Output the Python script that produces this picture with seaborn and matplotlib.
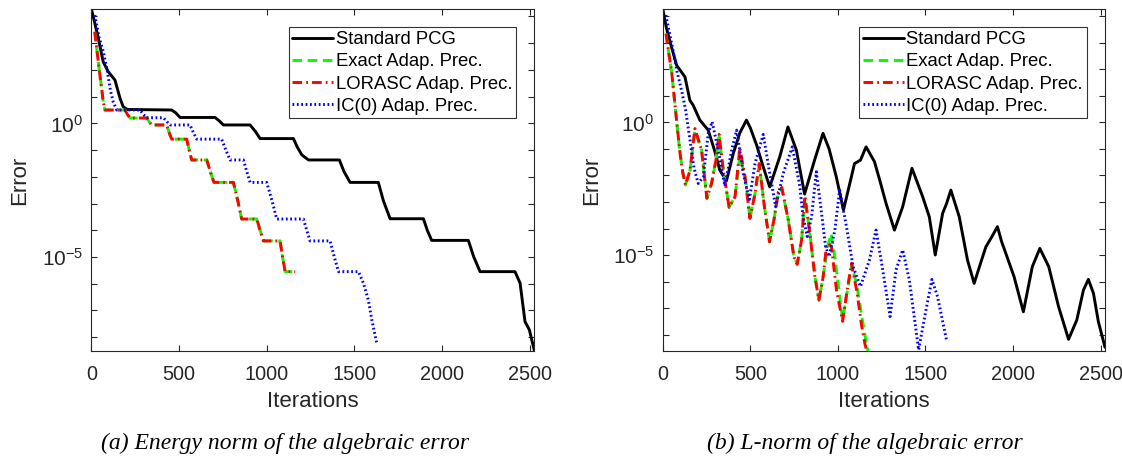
import numpy as np
import pandas as pd
import matplotlib
matplotlib.use("Agg")
import matplotlib.pyplot as plt
import matplotlib.ticker as mticker
import seaborn as sns

# ---------------- data (iterations, log10 of error) ----------------
# (a) energy norm
pcg_energy_it = [0, 20, 40, 68, 97, 135, 164, 182, 205, 458, 480, 506, 705, 728, 753, 905, 935, 962,
                 1152, 1175, 1200, 1238, 1414, 1440, 1475, 1636, 1665, 1703, 1893, 1915, 1940, 2149,
                 2180, 2216, 2415, 2444, 2472, 2497, 2525]
pcg_energy_log = [4.30, 3.75, 3.18, 2.30, 1.93, 1.62, 0.93, 0.62, 0.52, 0.50, 0.40, 0.22, 0.22, 0.10,
                  -0.06, -0.06, -0.30, -0.57, -0.57, -0.90, -1.18, -1.37, -1.37, -1.80, -2.21, -2.21,
                  -2.90, -3.57, -3.57, -4.00, -4.38, -4.38, -5.00, -5.55, -5.55, -5.98, -7.42, -7.73, -8.50]

exact_energy_it = [20, 30, 40, 50, 59, 68, 78, 192, 206, 221, 316, 330, 344, 430, 444, 458, 544, 558,
                   572, 658, 678, 699, 810, 835, 857, 943, 962, 981, 1076, 1090, 1105, 1162]
exact_energy_log = [3.43, 2.85, 2.30, 1.75, 1.31, 0.80, 0.50, 0.50, 0.33, 0.20, 0.20, 0.06, -0.06, -0.06,
                    -0.35, -0.59, -0.59, -1.00, -1.37, -1.37, -1.80, -2.21, -2.21, -2.90, -3.58, -3.58,
                    -4.00, -4.40, -4.40, -5.00, -5.55, -5.55]

lorasc_energy_it = [20, 30, 40, 50, 59, 68, 78, 192, 206, 221, 316, 330, 344, 430, 444, 458, 544, 558,
                    572, 658, 678, 699, 810, 835, 857, 943, 962, 981, 1076, 1090, 1105, 1162]
lorasc_energy_log = [3.43, 2.85, 2.30, 1.75, 1.31, 0.80, 0.50, 0.50, 0.33, 0.20, 0.20, 0.06, -0.06, -0.06,
                     -0.35, -0.59, -0.59, -1.00, -1.37, -1.37, -1.80, -2.21, -2.21, -2.90, -3.58, -3.58,
                     -4.00, -4.40, -4.40, -5.00, -5.55, -5.55]

ic0_energy_it = [20, 45, 68, 90, 110, 125, 145, 278, 297, 316, 411, 430, 449, 563, 582, 601, 743, 767,
                 791, 867, 886, 905, 1000, 1030, 1057, 1209, 1228, 1247, 1361, 1385, 1409, 1523, 1551,
                 1579, 1599, 1627]
ic0_energy_log = [4.05, 3.20, 2.70, 2.00, 1.20, 0.80, 0.50, 0.50, 0.33, 0.21, 0.21, 0.07, -0.06, -0.06,
                  -0.35, -0.59, -0.59, -1.00, -1.37, -1.37, -1.80, -2.21, -2.21, -2.90, -3.58, -3.58,
                  -4.00, -4.40, -4.40, -5.00, -5.55, -5.55, -5.98, -6.61, -7.36, -8.23]

# (b) L-norm
pcg_l_it = [0, 20, 42, 80, 127, 155, 174, 212, 260, 298, 326, 364, 403, 440, 478, 500, 536, 575, 611,
            668, 715, 763, 810, 867, 915, 950, 991, 1032, 1066, 1095, 1129, 1161, 1209, 1240, 1275, 1323,
            1370, 1423, 1450, 1484, 1522, 1556, 1598, 1621, 1645, 1693, 1740, 1778, 1815, 1845, 1880,
            1911, 1935, 1959, 2006, 2059, 2110, 2153, 2204, 2260, 2317, 2364, 2402, 2430, 2459, 2487, 2525]
pcg_l_log = [4.30, 3.60, 3.04, 2.15, 1.72, 0.84, 0.65, 0.09, -0.29, -1.10, -1.80, -2.20, -1.17, -0.40,
             0.09, -0.20, -0.85, -1.70, -2.43, -1.30, -0.17, -1.04, -2.70, -1.42, -0.41, -1.00, -2.05,
             -3.30, -2.36, -1.55, -1.42, -0.92, -1.48, -2.20, -3.05, -4.06, -3.18, -1.73, -2.20, -2.80,
             -3.56, -5.00, -3.43, -3.05, -2.55, -3.56, -5.19, -6.07, -5.30, -4.69, -4.30, -3.93, -4.50,
             -4.94, -5.82, -7.14, -5.44, -4.75, -5.44, -6.95, -8.18, -7.45, -6.32, -5.92, -6.44, -7.51,
             -8.48]

exact_l_it = [19, 35, 51, 65, 80, 99, 115, 130, 156, 184, 222, 252, 279, 304, 322, 346, 379, 413, 440,
              470, 498, 527, 551, 578, 610, 635, 660, 680, 717, 749, 768, 793, 812, 840, 869, 892, 916,
              940, 962, 985, 1027, 1055, 1080, 1112, 1140, 1162, 1172]
exact_l_log = [3.35, 2.60, 1.91, 1.00, 0.02, -1.17, -1.90, -2.36, -1.80, -0.30, -1.04, -2.86, -2.30,
               -1.42, -0.55, -1.80, -3.20, -2.80, -1.25, -2.05, -3.62, -2.68, -1.60, -3.05, -4.50, -3.68,
               -2.61, -2.50, -3.68, -5.06, -5.35, -4.43, -2.85, -4.18, -5.82, -6.70, -5.82, -4.70, -4.20,
               -5.20, -7.45, -6.32, -5.35, -6.30, -7.45, -8.30, -8.62]

lorasc_l_it = [19, 35, 51, 65, 80, 99, 115, 130, 156, 184, 222, 252, 279, 304, 322, 346, 379, 413, 440,
               470, 498, 527, 551, 578, 610, 635, 660, 680, 717, 749, 768, 793, 812, 840, 869, 892, 916,
               935, 949, 964, 992, 1027, 1053, 1078, 1110, 1135, 1156, 1166]
lorasc_l_log = [3.35, 2.60, 1.91, 1.00, 0.02, -1.17, -1.90, -2.36, -1.80, -0.23, -1.04, -2.86, -2.30,
                -1.42, -0.45, -1.80, -3.20, -2.80, -0.95, -2.05, -3.62, -2.68, -1.55, -3.05, -4.50,
                -3.68, -2.61, -2.45, -3.68, -5.06, -5.35, -4.43, -2.77, -4.18, -5.82, -6.70, -5.82,
                -4.65, -4.56, -4.72, -6.32, -7.50, -6.32, -5.31, -6.44, -7.64, -8.40, -8.62]

ic0_l_it = [18, 51, 80, 108, 130, 156, 179, 203, 232, 260, 282, 317, 355, 394, 422, 460, 495, 527, 574,
            608, 645, 688, 740, 783, 800, 825, 850, 877, 907, 930, 950, 983, 1010, 1049, 1087, 1129,
            1180, 1218, 1256, 1298, 1332, 1370, 1408, 1461, 1503, 1537, 1569, 1620]
ic0_l_log = [4.05, 2.98, 1.97, 1.20, 0.50, -0.67, -1.73, -2.30, -2.05, -0.41, 0.03, -1.04, -2.40, -1.04,
             -0.29, -1.92, -2.90, -1.55, -0.45, -1.80, -3.18, -1.92, -0.92, -2.42, -3.50, -4.30, -3.56,
             -1.86, -3.43, -4.69, -5.06, -4.06, -2.55, -3.93, -5.44, -6.19, -5.19, -4.06, -5.56, -7.32,
             -5.56, -4.81, -5.94, -8.58, -7.07, -5.92, -6.57, -8.20]

series_names = ["Standard PCG", "Exact Adap. Prec.", "LORASC Adap. Prec.", "IC(0) Adap. Prec."]
xticks = [0, 500, 1000, 1500, 2000, 2500]
captions = ["(a) Energy norm of the algebraic error", "(b) L-norm of the algebraic error"]

# ---------------- style ----------------
sns.set_style("ticks")
plt.rcParams["font.family"] = ["Liberation Sans", "DejaVu Sans"]
plt.rcParams["mathtext.fontset"] = "custom"
plt.rcParams["mathtext.rm"] = "Liberation Sans"
plt.rcParams["mathtext.it"] = "Liberation Sans:italic"
plt.rcParams["mathtext.bf"] = "Liberation Sans:bold"

TXT = "#262626"
styles = {
    "Standard PCG": dict(color="black", ls="-"),
    "Exact Adap. Prec.": dict(color="#00ff00", ls=(0, (3.3, 1.9))),
    "LORASC Adap. Prec.": dict(color="#ff0000", ls=(0, (3.3, 1.4, 0.6, 1.4))),
    "IC(0) Adap. Prec.": dict(color="#0000ff", ls=(0, (0.6, 0.9))),
}

fig = plt.figure(figsize=(11.22, 4.63), dpi=100)
W, H = 1122, 463
ax_l = fig.add_axes([91.3 / W, 1 - 351 / H, (534.3 - 91.3) / W, 342 / H])
ax_r = fig.add_axes([662.7 / W, 1 - 351 / H, (1105 - 662.7) / W, 342 / H])

panels = [
    (ax_l, [(pcg_energy_it, pcg_energy_log), (exact_energy_it, exact_energy_log),
            (lorasc_energy_it, lorasc_energy_log), (ic0_energy_it, ic0_energy_log)], (-8.52, 4.28)),
    (ax_r, [(pcg_l_it, pcg_l_log), (exact_l_it, exact_l_log),
            (lorasc_l_it, lorasc_l_log), (ic0_l_it, ic0_l_log)], (-8.62, 4.28)),
]

for ax, data, (ylo, yhi) in panels:
    for name, (it, lg) in zip(series_names, data):
        df = pd.DataFrame({"Iterations": it, "Error": np.power(10.0, lg)})
        st = styles[name]
        sns.lineplot(data=df, x="Iterations", y="Error", ax=ax, estimator=None, sort=False,
                     color=st["color"], linestyle=st["ls"], linewidth=2.1, label=name)
    ax.set_yscale("log")
    ax.set_xlim(0, 2525)
    ax.set_ylim(10 ** ylo, 10 ** yhi)
    ax.xaxis.set_major_locator(mticker.FixedLocator(xticks))
    ax.yaxis.set_major_locator(mticker.FixedLocator([1e-5, 1e0]))
    ax.yaxis.set_major_formatter(mticker.FixedFormatter([r"$\mathregular{10^{-5}}$", r"$\mathregular{10^{0}}$"]))
    ax.yaxis.set_minor_locator(mticker.FixedLocator([10.0 ** k for k in range(-8, 5)]))
    ax.yaxis.set_minor_formatter(mticker.NullFormatter())
    ax.xaxis.set_minor_locator(mticker.NullLocator())
    ax.tick_params(which="both", direction="in", top=True, right=True, length=4, width=0.8,
                   colors=TXT, labelsize=14.3, pad=6)
    ax.tick_params(axis="x", which="both", pad=10)
    ax.tick_params(axis="y", which="major", labelsize=15)
    for sp in ax.spines.values():
        sp.set_color(TXT)
        sp.set_linewidth(0.8)
    ax.set_xlabel("Iterations", fontsize=16, color=TXT)
    ax.set_ylabel("Error", fontsize=16, color=TXT)
    ax.xaxis.set_label_coords(0.5, -0.118)
    ax.yaxis.set_label_coords(-0.138, 0.5)
    leg = ax.legend(loc="upper right", fontsize=13.3, frameon=True, fancybox=False,
                    handlelength=2.2, handletextpad=0.15, borderpad=0.2, labelspacing=0.28,
                    borderaxespad=1.0, edgecolor="black")
    leg.get_frame().set_linewidth(0.8)
    for t in leg.get_texts():
        t.set_color("black")

fig.text(285 / W, 1 - 443 / H, captions[0], ha="center", va="center", fontsize=17,
         family=["Liberation Serif"], style="italic", color="black")
fig.text(865 / W, 1 - 443 / H, captions[1], ha="center", va="center", fontsize=17,
         family=["Liberation Serif"], style="italic", color="black")

fig.savefig("out.png", dpi=100)
